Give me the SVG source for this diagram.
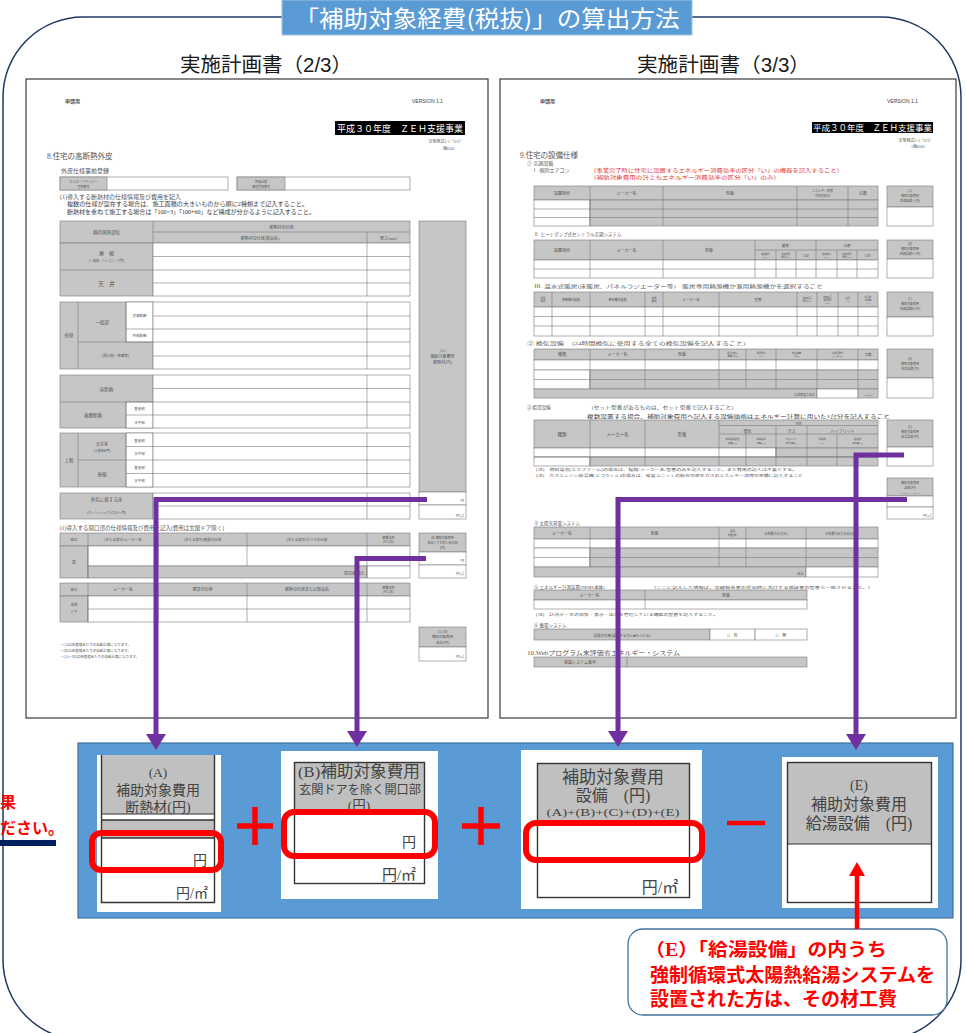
<svg xmlns="http://www.w3.org/2000/svg" width="966" height="1033" viewBox="0 0 966 1033">
<defs>
<style>
.pg{fill:#fff;stroke:#3a3a3a;stroke-width:1.2}
.g{fill:#c6c6c6;stroke:#7a7a7a;stroke-width:.6}
.w{fill:#fff;stroke:#7a7a7a;stroke-width:.6}
.l{stroke:#7a7a7a;stroke-width:.6;fill:none}
.f{font-family:"Liberation Serif","Noto Sans CJK JP",serif;fill:#555}
.s3{font-size:3px}.s35{font-size:3.5px}.s4{font-size:4px}.s45{font-size:4.5px}.s5{font-size:5px}.s55{font-size:5.5px}.s6{font-size:6px}.s7{font-size:7.5px}
.m{text-anchor:middle}.e{text-anchor:end}
.big{font-family:"Liberation Sans","Noto Sans CJK JP",sans-serif;fill:#1a1a1a}
.bx{font-family:"Liberation Serif","Noto Sans CJK JP",serif;fill:#444;text-anchor:middle}
.red{font-family:"Liberation Serif","Noto Sans CJK JP",serif;font-weight:bold;fill:#ff0000}
.rr{fill:none;stroke:#ff0000;stroke-width:6}
.hd{fill:#c0c0c0}
.plus{stroke:#ff0000;stroke-width:5.5;fill:none}
</style>
<marker id="pa" markerUnits="userSpaceOnUse" markerWidth="16" markerHeight="20" viewBox="0 0 16 20" refX="0" refY="10" orient="auto"><path d="M0,0L16,10L0,20z" fill="#7030a0"/></marker>
<marker id="ra" markerUnits="userSpaceOnUse" markerWidth="14" markerHeight="16" viewBox="0 0 14 16" refX="0" refY="8" orient="auto"><path d="M0,0L14,8L0,16z" fill="#ff0000"/></marker>
</defs>

<rect width="966" height="1033" fill="#fff"/>

<!-- outer frame -->
<g id="frame">
<rect x="3" y="17" width="958" height="1023" rx="80" ry="80" fill="none" stroke="#203864" stroke-width="1.5"/>
</g>

<!-- title -->
<g id="title">
<rect x="282" y="0" width="410" height="35" fill="#5b9bd5" stroke="#9dc3e6" stroke-width="1"/>
<text x="487" y="27" font-family="'Noto Sans CJK JP',sans-serif" font-size="23" fill="#fff" text-anchor="middle" textLength="385" lengthAdjust="spacingAndGlyphs">「補助対象経費(税抜)」の算出方法</text>
</g>

<g id="subtitles">
<text class="big" x="180" y="72" font-size="20" textLength="172" lengthAdjust="spacingAndGlyphs">実施計画書（2/3）</text>
<text class="big" x="637" y="72" font-size="20" textLength="173" lengthAdjust="spacingAndGlyphs">実施計画書（3/3）</text>
</g>

<!-- ============ LEFT PAGE (2/3) ============ -->
<g id="page-2of3">
<rect class="pg" x="26" y="79" width="462" height="639"/>
<text class="f s5" x="65" y="103" font-weight="bold" fill="#333">申請用</text>
<text x="412" y="103" font-family="'Liberation Sans',sans-serif" font-size="5" fill="#444">VERSION 1.1</text>
<rect x="335" y="121" width="130" height="14" fill="#000"/>
<text class="f m" x="400" y="131.5" font-size="9" style="fill:#fff">平成３０年度　ＺＥＨ支援事業</text>
<text class="f s4 e" x="463" y="143">定型様式1-1（2/3）</text>
<text class="f s4 e" x="455" y="149.5">版0101</text>
<text class="f s7" x="47" y="159">8.住宅の高断熱外皮</text>
<text class="f s6" x="61" y="173">外皮仕様事前登録</text>
<rect class="w" x="60" y="177" width="168" height="13"/>
<rect class="g" x="60" y="177" width="47" height="13"/>
<text class="f s3 m" x="83.5" y="182.5">ビルダー/プランナー</text>
<text class="f s3 m" x="83.5" y="187.5">登録番号</text>
<rect class="w" x="237" y="177" width="173" height="13"/>
<rect class="g" x="237" y="177" width="48" height="13"/>
<text class="f s3 m" x="261" y="182.5">外皮仕様</text>
<text class="f s3 m" x="261" y="187.5">事前登録番号</text>
<text class="f s6" x="60" y="199">(1)導入する断熱材の仕様情報及び費用を記入</text>
<text class="f s55" x="67" y="206" textLength="241" lengthAdjust="spacingAndGlyphs" style="fill:#333">複数の仕様が混在する場合は、施工面積の大きいものから順に2種類まで記入すること。</text>
<text class="f s55" x="67" y="213.5" textLength="248" lengthAdjust="spacingAndGlyphs" style="fill:#333">断熱材を重ねて施工する場合は「100×3」「100+60」など構成が分かるように記入すること。</text>

<rect class="g" x="60" y="221" width="350" height="22"/>
<path class="l" d="M153,221V243M153,232H410M367,232V243"/>
<text class="f s45 m" x="106.5" y="234">熱的境界部位</text>
<text class="f s4 m" x="281.5" y="229">断熱材の仕様</text>
<text class="f s4 m" x="260" y="240">断熱材の仕様(製品名)</text>
<text class="f s4 m" x="388.5" y="240">厚さ(mm)</text>
<rect class="g" x="60" y="243" width="93" height="53"/>
<rect class="w" x="153" y="243" width="257" height="53"/>
<path class="l" d="M60,270H410M153,256.5H410M153,283H410M367,243V296"/>
<text class="f s5 m" x="106.5" y="255">屋　根</text>
<text class="f s3 m" x="106.5" y="262">(一般部、バルコニー下等)</text>
<text class="f s55 m" x="106.5" y="286">天　井</text>
<rect class="g" x="60" y="302" width="93" height="67"/>
<rect class="w" x="126" y="302" width="27" height="40"/>
<rect class="w" x="153" y="302" width="257" height="67"/>
<path class="l" d="M78,302V369M126,302V342M78,342H410M126,329H410M153,316H410M153,356H410M367,302V369"/>
<text class="f s45 m" x="69" y="337">外壁</text>
<text class="f s45 m" x="102" y="324">一般部</text>
<text class="f s35 m" x="139.5" y="317">充填断熱</text>
<text class="f s35 m" x="139.5" y="337">外張断熱</text>
<text class="f s35 m" x="115.5" y="357">(開口部・界壁等)</text>
<rect class="g" x="60" y="375" width="93" height="53"/>
<rect class="w" x="126" y="402" width="27" height="26"/>
<rect class="w" x="153" y="375" width="257" height="53"/>
<path class="l" d="M153,388.5H410M60,402H410M126,415H410M126,402V428M367,375V428"/>
<text class="f s45 m" x="106.5" y="391">床断熱</text>
<text class="f s45 m" x="93" y="417">基礎断熱</text>
<text class="f s35 m" x="139.5" y="410">垂直部</text>
<text class="f s35 m" x="139.5" y="423.5">水平部</text>
<rect class="g" x="60" y="433" width="93" height="54"/>
<rect class="w" x="126" y="433" width="27" height="54"/>
<rect class="w" x="153" y="433" width="257" height="54"/>
<path class="l" d="M78,433V487M126,433V487M78,460H410M126,446.5H410M126,473.5H410M367,433V487"/>
<text class="f s45 m" x="69" y="462">上階</text>
<text class="f s4 m" x="102" y="446">天井等</text>
<text class="f s3 m" x="102" y="451.5">(上階床納等)</text>
<text class="f s45 m" x="102" y="476">屋根</text>
<text class="f s35 m" x="139.5" y="441.5">垂直部</text>
<text class="f s35 m" x="139.5" y="455">水平部</text>
<text class="f s35 m" x="139.5" y="468.5">垂直部</text>
<text class="f s35 m" x="139.5" y="482">水平部</text>
<rect class="g" x="60" y="493" width="93" height="26"/>
<rect class="w" x="153" y="493" width="257" height="26"/>
<path class="l" d="M153,506H410M367,493V519"/>
<text class="f s45 m" x="106.5" y="501">外気に接する床</text>
<text class="f s3 m" x="106.5" y="514">(オーバーハング,ピロティ等)</text>
<rect class="g" x="419" y="221" width="47" height="271"/>
<text class="f s4 m" x="442.5" y="352">(A)</text>
<text class="f s4 m" x="442.5" y="358">補助対象費用</text>
<text class="f s4 m" x="442.5" y="364">断熱材(円)</text>
<rect class="w" x="419" y="492" width="47" height="13"/>
<rect class="w" x="419" y="505" width="47" height="14"/>
<text class="f s35 e" x="464" y="502">円</text>
<text class="f s35 e" x="464" y="516.5">円/㎡</text>

<text class="f s55" x="60" y="530">(1)導入する開口部の仕様情報及び費用を記入(費用は玄関ドア除く)</text>
<rect class="g" x="60" y="533" width="350" height="13"/>
<rect class="g" x="60" y="546" width="28" height="32"/>
<rect class="w" x="88" y="546" width="322" height="20"/>
<rect class="g" x="88" y="566" width="279" height="12"/>
<rect class="w" x="367" y="566" width="43" height="12"/>
<path class="l" d="M88,533V578M158,533V566M247,533V566M367,533V578"/>
<text class="f s35 m" x="74" y="541">部位</text>
<text class="f s35 m" x="123" y="541">(主たる窓の)メーカー名</text>
<text class="f s35 m" x="202.5" y="541">(主たる窓の)建具の仕様</text>
<text class="f s35 m" x="307" y="541">(主たる窓の)ガラスの仕様</text>
<text class="f s3 m" x="388.5" y="538.5">熱貫流率</text>
<text class="f s3 m" x="388.5" y="543">[W/㎡K]</text>
<text class="f s4 m" x="74" y="564">窓</text>
<text class="f s4 e" x="364" y="574.5">窓の面積比</text>
<rect class="g" x="419" y="533" width="47" height="19"/>
<text class="f s3 m" x="442.5" y="538.5">(B) 補助対象費用</text>
<text class="f s3 m" x="442.5" y="543.5">玄関ドアを除く開口部</text>
<text class="f s3 m" x="442.5" y="548.5">(円)</text>
<rect class="w" x="419" y="552" width="47" height="13"/>
<rect class="w" x="419" y="565" width="47" height="13"/>
<text class="f s35 e" x="464" y="562">円</text>
<text class="f s35 e" x="464" y="575">円/㎡</text>

<rect class="g" x="60" y="583" width="350" height="13"/>
<rect class="g" x="60" y="596" width="28" height="26"/>
<rect class="w" x="88" y="596" width="322" height="26"/>
<path class="l" d="M88,583V622M158,583V622M247,583V622M367,583V622M88,609H410"/>
<text class="f s35 m" x="74" y="591">部位</text>
<text class="f s4 m" x="123" y="591">メーカー名</text>
<text class="f s4 m" x="202.5" y="591">建具の仕様</text>
<text class="f s4 m" x="307" y="591">断熱の仕様または製品名</text>
<text class="f s3 m" x="388.5" y="588.5">熱貫流率</text>
<text class="f s3 m" x="388.5" y="593">[W/㎡K]</text>
<text class="f s35 m" x="74" y="606">玄関</text>
<text class="f s35 m" x="74" y="613">ドア</text>
<rect class="g" x="419" y="627" width="47" height="20"/>
<text class="f s3 m" x="442.5" y="632.5">(A)+(B)</text>
<text class="f s35 m" x="442.5" y="638">補助対象費用</text>
<text class="f s35 m" x="442.5" y="643.5">合計(円)</text>
<rect class="w" x="419" y="647" width="47" height="14"/>
<text class="f s35 e" x="464" y="658">円/㎡</text>
<text class="f s35" x="60" y="646">・(A)は床面積あたりの自動計算になります。</text>
<text class="f s35" x="60" y="652">・(B)は床面積あたりの自動計算になります。</text>
<text class="f s35" x="60" y="658">・(A)・(B)は床面積あたりの自動計算になります。</text>
</g>

<!-- ============ RIGHT PAGE (3/3) ============ -->
<g id="page-3of3">
<rect class="pg" x="500" y="79" width="456" height="639"/>
<text class="f s5" x="540" y="103" font-weight="bold" fill="#333">申請用</text>
<text x="887" y="103" font-family="'Liberation Sans',sans-serif" font-size="5" fill="#444">VERSION 1.1</text>
<rect x="812" y="122" width="121" height="11" fill="#000"/>
<text class="f m" x="872.5" y="131" font-size="8.5" style="fill:#fff">平成３０年度　ＺＥＨ支援事業</text>
<text class="f s4 e" x="933" y="141.5">定型様式1-1（3/3）</text>
<text class="f s4 e" x="925" y="147.5">1版0101</text>
<text class="f s7" x="520" y="158">9.住宅の設備仕様</text>
<text class="f s5" x="527" y="165">① 空調設備</text>
<text class="f s5" x="532" y="172">Ⅰ. 個別エアコン</text>
<text class="f s5" x="590" y="172" textLength="253" lengthAdjust="spacingAndGlyphs" style="fill:#e03030">（事業完了時に住宅に設置するエネルギー消費効率の区分「い」の機器を記入すること）</text>
<text class="f s5" x="590" y="179" textLength="190" lengthAdjust="spacingAndGlyphs" style="fill:#e03030">（補助対象費用の計上もエネルギー消費効率の区分「い」のみ）</text>
<rect class="g" x="534" y="186" width="344" height="14"/>
<rect class="w" x="534" y="200" width="56" height="26"/>
<rect class="g" x="590" y="200" width="288" height="26"/>
<path class="l" d="M590,186V226M663,186V226M797,186V226M848,186V226M534,209H878M534,217.5H878"/>
<text class="f s4 m" x="562" y="194.5">設置場所</text>
<text class="f s4 m" x="626.5" y="194.5">メーカー名</text>
<text class="f s4 m" x="730" y="194.5">型番</text>
<text class="f s3 m" x="822.5" y="192">エネルギー消費</text>
<text class="f s3 m" x="822.5" y="196.5">効率の区分</text>
<text class="f s4 m" x="863" y="194.5">台数</text>
<rect class="g" x="887" y="186" width="46" height="21"/>
<rect class="w" x="887" y="207" width="46" height="19"/>
<text class="f s3 m" x="910" y="192">(A)</text>
<text class="f s3 m" x="910" y="197">補助対象費用</text>
<text class="f s3 m" x="910" y="202">空調設備Ⅰ(円)</text>
<text class="f s45" x="534" y="236">Ⅱ. ヒートポンプ式セントラル空調システム</text>
<rect class="g" x="534" y="240" width="344" height="20"/>
<rect class="w" x="534" y="260" width="344" height="18"/>
<path class="l" d="M590,240V278M663,240V278M755,240V278M816,240V278M755,250H878M776,250V278M796,250V278M837,250V278M857,250V278M534,269H878"/>
<text class="f s4 m" x="562" y="252">設置場所</text>
<text class="f s4 m" x="626.5" y="252">メーカー名</text>
<text class="f s4 m" x="709" y="252">型番</text>
<text class="f s35 m" x="785.5" y="247">暖房</text>
<text class="f s35 m" x="847" y="247">冷房</text>
<text class="f m" x="765.5" y="254.5" font-size="2.3">定格能力</text>
<text class="f m" x="765.5" y="257.5" font-size="2.3">(kW)</text>
<text class="f m" x="786" y="254.5" font-size="2.3">定格消費</text>
<text class="f m" x="786" y="257.5" font-size="2.3">電力(kW)</text>
<text class="f s3 m" x="806" y="256.5">COP</text>
<text class="f m" x="826.5" y="254.5" font-size="2.3">定格能力</text>
<text class="f m" x="826.5" y="257.5" font-size="2.3">(kW)</text>
<text class="f m" x="847" y="254.5" font-size="2.3">定格消費</text>
<text class="f m" x="847" y="257.5" font-size="2.3">電力(kW)</text>
<text class="f s3 m" x="867.5" y="256.5">COP</text>
<rect class="g" x="887" y="240" width="46" height="19"/>
<rect class="w" x="887" y="259" width="46" height="19"/>
<text class="f s3 m" x="910" y="245">(B)</text>
<text class="f s3 m" x="910" y="250">補助対象費用</text>
<text class="f s3 m" x="910" y="255">空調設備Ⅱ (円)</text>
<text class="f s45" x="534" y="288" textLength="289" lengthAdjust="spacingAndGlyphs">Ⅲ. 温水式暖房(床暖房、パネルラジエーター等)　暖房専用熱源機か兼用熱源機かを選択すること</text>
<rect class="g" x="534" y="292" width="344" height="15"/>
<rect class="w" x="534" y="307" width="344" height="29"/>
<path class="l" d="M552,292V336M590,292V336M645,292V336M663,292V336M719,292V336M797,292V336M817,292V336M838,292V336M858,292V336M534,316.5H878M534,326H878"/>
<text class="f m" x="543" y="298.5" font-size="2.5">設置</text>
<text class="f m" x="543" y="302" font-size="2.5">場所</text>
<text class="f s3 m" x="571" y="300.5">放熱機の種類</text>
<text class="f s3 m" x="617.5" y="300.5">熱源機の種類</text>
<text class="f m" x="654" y="298.5" font-size="2.5">専用</text>
<text class="f m" x="654" y="302" font-size="2.5">兼用</text>
<text class="f s35 m" x="691" y="301">メーカー名</text>
<text class="f s35 m" x="758" y="301">型番</text>
<text class="f m" x="807" y="298.5" font-size="2.2">定格暖房</text>
<text class="f m" x="807" y="302" font-size="2.2">能力(kW)</text>
<text class="f m" x="827.5" y="297.5" font-size="2.2">定格暖房</text>
<text class="f m" x="827.5" y="300.5" font-size="2.2">消費電力</text>
<text class="f m" x="827.5" y="303.5" font-size="2.2">(kW)</text>
<text class="f m" x="848" y="298.5" font-size="2.3">暖房</text>
<text class="f m" x="848" y="302" font-size="2.3">COP</text>
<text class="f m" x="868" y="297.5" font-size="2.2">暖房部</text>
<text class="f m" x="868" y="300.5" font-size="2.2">熱効率</text>
<text class="f m" x="868" y="303.5" font-size="2.2">(%)</text>
<rect class="g" x="887" y="292" width="46" height="25"/>
<rect class="w" x="887" y="317" width="46" height="19"/>
<text class="f s3 m" x="910" y="300">(C)</text>
<text class="f s3 m" x="910" y="305">補助対象費用</text>
<text class="f s3 m" x="910" y="310">空調設備Ⅲ (円)</text>
<text class="f s45" x="527" y="345" textLength="223" lengthAdjust="spacingAndGlyphs">② 換気設備　（24時間換気に使用する全ての換気設備を記入すること）</text>
<rect class="g" x="534" y="349" width="344" height="11"/>
<rect class="w" x="534" y="360" width="344" height="10"/>
<rect class="w" x="534" y="370" width="56" height="19"/>
<rect class="g" x="590" y="370" width="288" height="19"/>
<rect class="g" x="534" y="389" width="283" height="9"/>
<rect class="w" x="817" y="389" width="41" height="9"/>
<rect class="g" x="858" y="389" width="20" height="9"/>
<path class="l" d="M590,349V389M645,349V389M719,349V389M746,349V389M776,349V389M817,349V389M858,349V389M534,379.5H878"/>
<text class="f s4 m" x="562" y="356">種類</text>
<text class="f s4 m" x="617.5" y="356">メーカー名</text>
<text class="f s4 m" x="682" y="356">型番</text>
<text class="f m" x="732.5" y="353.5" font-size="2.3">設計(換気)</text>
<text class="f m" x="732.5" y="357" font-size="2.3">風量(㎥/h)</text>
<text class="f m" x="761" y="353.5" font-size="2.3">消費電力</text>
<text class="f m" x="761" y="357" font-size="2.3">(W)</text>
<text class="f m" x="796.5" y="353.5" font-size="2.3">換気風量</text>
<text class="f m" x="796.5" y="357" font-size="2.3">(㎥/h)</text>
<text class="f m" x="837.5" y="353.5" font-size="2.3">比消費電力</text>
<text class="f m" x="837.5" y="357" font-size="2.3">[W/(㎥/h)]</text>
<text class="f s35 m" x="868" y="356">台数</text>
<text class="f s3 e" x="815" y="395.5">比消費電力合計</text>
<text class="f m" x="868" y="395.5" font-size="2.3">W/(㎥/h)</text>
<rect class="g" x="887" y="349" width="46" height="29"/>
<rect class="w" x="887" y="378" width="46" height="20"/>
<text class="f s3 m" x="910" y="360">(D)</text>
<text class="f s3 m" x="910" y="365">補助対象費用</text>
<text class="f s3 m" x="910" y="370">換気設備 (円)</text>
<text class="f s45" x="527" y="409">③ 給湯設備</text>
<text class="f s45" x="588" y="409" textLength="149" lengthAdjust="spacingAndGlyphs">（セット型番があるものは、セット型番で記入すること）</text>
<text class="f s45" x="587" y="417.5" textLength="303" lengthAdjust="spacingAndGlyphs" style="fill:#333">複数設置する場合、補助対象費用へ記入する設備価格はエネルギー計算に用いた1台分を記入すること</text>
<rect class="g" x="534" y="420" width="344" height="28"/>
<rect class="w" x="534" y="448" width="242" height="9"/>
<rect class="g" x="776" y="448" width="102" height="9"/>
<rect class="w" x="534" y="457" width="56" height="9"/>
<rect class="g" x="590" y="457" width="288" height="9"/>
<path class="l" d="M590,420V466M645,420V466M719,420V466M719,425.5H878M719,434H878M776,425.5V466M807,425.5V466M746,434V466M837,434V466M534,457H878"/>
<text class="f s45 m" x="562" y="436">種類</text>
<text class="f s45 m" x="617.5" y="436">メーカー名</text>
<text class="f s45 m" x="682" y="436">型番</text>
<text class="f s3 m" x="798.5" y="424.5">効率</text>
<text class="f s4 m" x="747.5" y="432.5">電気</text>
<text class="f s4 m" x="791.5" y="432.5">ガス</text>
<text class="f s4 m" x="842.5" y="432.5">ハイブリッド</text>
<text class="f m" x="732.5" y="439.5" font-size="2.3">年間給湯保温</text>
<text class="f m" x="732.5" y="443.5" font-size="2.3">効率(JIS)</text>
<text class="f m" x="761" y="439.5" font-size="2.3">年間給湯</text>
<text class="f m" x="761" y="443.5" font-size="2.3">効率(JIS)</text>
<text class="f m" x="791.5" y="439.5" font-size="2.3">エネルギー</text>
<text class="f m" x="791.5" y="443.5" font-size="2.3">消費効率(%)</text>
<text class="f m" x="822" y="439.5" font-size="2.3">中間期</text>
<text class="f m" x="822" y="443.5" font-size="2.3">COP</text>
<text class="f m" x="857.5" y="439.5" font-size="2.3">給湯部</text>
<text class="f m" x="857.5" y="443.5" font-size="2.3">熱効率(%)</text>
<rect class="g" x="887" y="420" width="46" height="27"/>
<rect class="w" x="887" y="447" width="46" height="19"/>
<text class="f s3 m" x="910" y="428">(E)</text>
<text class="f s3 m" x="910" y="433">補助対象費用</text>
<text class="f s3 m" x="910" y="438">給湯設備 (円)</text>
<text class="f s3" x="536" y="471" textLength="261" lengthAdjust="spacingAndGlyphs">(注)　燃料電池(エネファーム)の場合は、種類/メーカー名/型番のみを記入すること。また費用の記入は不要とする。</text>
<text class="f s3" x="536" y="477" textLength="267" lengthAdjust="spacingAndGlyphs">(注)　ガスエンジン給湯機(エコウィル)の場合は、発電ユニットの総合効率をガスのエネルギー消費効率欄に記入すること</text>
<rect class="g" x="887" y="478" width="46" height="18"/>
<rect class="w" x="887" y="496" width="46" height="11"/>
<rect class="w" x="887" y="507" width="46" height="12"/>
<text class="f s3 m" x="910" y="483.5">補助対象費用</text>
<text class="f s3 m" x="910" y="488.5">設備 (円)</text>
<text class="f m" x="910" y="493.5" font-size="2.3">(A)+(B)+(C)+(D)+(E)</text>
<text class="f s35 e" x="931" y="516.5">円/㎡</text>
<text class="f s45" x="534" y="525">④ 太陽光発電システム</text>
<rect class="g" x="534" y="527" width="344" height="12"/>
<rect class="w" x="534" y="539" width="344" height="9"/>
<rect class="w" x="534" y="548" width="56" height="19"/>
<rect class="g" x="590" y="548" width="288" height="19"/>
<rect class="g" x="534" y="567" width="272" height="10"/>
<rect class="w" x="806" y="567" width="72" height="10"/>
<path class="l" d="M590,527V567M719,527V567M746,527V567M806,527V567M534,557.5H878"/>
<text class="f s4 m" x="562" y="534.5">メーカー名</text>
<text class="f s4 m" x="654.5" y="534.5">型番</text>
<text class="f m" x="732.5" y="532" font-size="2.5">設置</text>
<text class="f m" x="732.5" y="536" font-size="2.5">枚数(枚)</text>
<text class="f s3 m" x="776" y="534.5">公称最大出力(W)</text>
<text class="f s3 m" x="842" y="534.5">公称最大出力の合計(kW)</text>
<text class="f s35 e" x="804" y="574.5">合計</text>
<text class="f s45" x="534" y="589">⑤ エネルギー計測装置(HEMS本体)</text>
<text class="f s35" x="651" y="589" textLength="222" lengthAdjust="spacingAndGlyphs">（ここに記入した情報は、実績報告書の提出時に添付する保証書の型番と一致させること。）</text>
<rect class="g" x="534" y="590" width="273" height="10"/>
<rect class="w" x="534" y="600" width="273" height="9"/>
<path class="l" d="M645,590V609"/>
<text class="f s4 m" x="589.5" y="597">メーカー名</text>
<text class="f s4 m" x="726" y="597">型番</text>
<text class="f s3" x="536" y="615.5" textLength="182" lengthAdjust="spacingAndGlyphs">(注)　計測データの収集・表示・出力を管理している機器の型番を記入すること。</text>
<text class="f s45" x="534" y="627">⑥ 蓄電システム</text>
<rect class="g" x="534" y="629" width="176" height="11"/>
<rect class="w" x="710" y="629" width="45" height="11"/>
<rect class="w" x="755" y="629" width="52" height="11"/>
<text class="f s35 m" x="622" y="636.5">設置の有無(設置する方に■をつける)</text>
<text class="f s4 m" x="732.5" y="636.5">□　有</text>
<text class="f s4 m" x="781" y="636.5">□　無</text>
<text class="f s6" x="527" y="655" textLength="153" lengthAdjust="spacingAndGlyphs">10.Webプログラム未評価省エネルギー・システム</text>
<rect class="g" x="534" y="657" width="273" height="10"/>
<path class="l" d="M627,657V667"/>
<text class="f s4 m" x="580" y="664">登録システム番号</text>
</g>

<!-- ============ BOTTOM PANEL ============ -->
<g id="panel">
<rect x="78" y="743" width="875" height="175" fill="#5b9bd5" stroke="#41719c" stroke-width="1.2"/>
</g>

<g id="node-A">
<rect x="97" y="755" width="124" height="157" fill="#fff"/>
<rect class="hd" x="102" y="755" width="113" height="59"/>
<rect class="hd" x="102" y="820" width="113" height="18"/>
<path d="M101.5,755V902.5H214.5V755M101.5,820H214.5M101.5,838H214.5M101.5,868H214.5" fill="none" stroke="#333" stroke-width="1.4"/>
<path d="M101.5,814H214.5" stroke="#333" stroke-width="1"/>
<text class="bx" x="158" y="777" font-size="13.5">(A)</text>
<text class="bx" x="158" y="795" font-size="14">補助対象費用</text>
<text class="bx" x="158" y="812" font-size="14">断熱材(円)</text>
<text class="bx" x="200" y="865" font-size="14">円</text>
<text class="bx" x="192" y="898" font-size="14">円/㎡</text>
<rect class="rr" x="92" y="833" width="129" height="37" rx="9"/>
</g>

<g id="op-plus-1"><path class="plus" d="M237,826H273M255,807V845"/></g>

<g id="node-B">
<rect x="281" y="751" width="157" height="148" fill="#fff"/>
<rect class="hd" x="295" y="763" width="129" height="50"/>
<rect x="294.5" y="762.5" width="130" height="121" fill="none" stroke="#333" stroke-width="1.4"/>
<path d="M294.5,856H424.5" stroke="#333" stroke-width="1.2"/>
<text class="bx" x="359" y="777" font-size="15.5" textLength="122" lengthAdjust="spacingAndGlyphs">(B)補助対象費用</text>
<text class="bx" x="360" y="794" font-size="12" textLength="122" lengthAdjust="spacingAndGlyphs">玄関ドアを除く開口部</text>
<text class="bx" x="359" y="810" font-size="13.5">(円)</text>
<text class="bx" x="409" y="847" font-size="14">円</text>
<text class="bx" x="399" y="880" font-size="15">円/㎡</text>
<rect class="rr" x="284" y="812" width="151" height="44" rx="10"/>
</g>

<g id="op-plus-2"><path class="plus" d="M462,826H500M481,807V845"/></g>

<g id="node-C">
<rect x="521" y="750" width="181" height="159" fill="#fff"/>
<rect class="hd" x="538" y="764" width="151" height="58"/>
<rect x="537.5" y="763.5" width="152" height="134" fill="none" stroke="#333" stroke-width="1.4"/>
<path d="M537.5,822H689.5M537.5,860H689.5" stroke="#333" stroke-width="1"/>
<text class="bx" x="613" y="783" font-size="17">補助対象費用</text>
<text class="bx" x="613" y="801" font-size="16">設備　(円)</text>
<text class="bx" x="613" y="816" font-size="11" textLength="133" lengthAdjust="spacingAndGlyphs">(A)+(B)+(C)+(D)+(E)</text>
<text class="bx" x="660" y="893" font-size="16">円/㎡</text>
<rect class="rr" x="526" y="823" width="176" height="37" rx="10"/>
</g>

<g id="op-minus"><path d="M727,823H765" stroke="#ff0000" stroke-width="4.5"/></g>

<g id="node-E">
<rect x="782" y="757" width="156" height="151" fill="#fff"/>
<rect class="hd" x="788" y="763" width="143" height="81"/>
<rect x="787.5" y="762.5" width="144" height="140" fill="none" stroke="#333" stroke-width="1.4"/>
<path d="M787.5,844H931.5" stroke="#333" stroke-width="1.2"/>
<text class="bx" x="859" y="790" font-size="14">(E)</text>
<text class="bx" x="859" y="810" font-size="16">補助対象費用</text>
<text class="bx" x="859" y="829" font-size="16">給湯設備　(円)</text>
</g>

<!-- left cut-off note -->
<g id="left-note">
<text class="red" x="0" y="808" font-size="16">果</text>
<text class="red" x="0" y="834" font-size="16">ださい。</text>
<rect x="0" y="840" width="56" height="6" fill="#002060"/>
</g>

<!-- callout -->
<g id="callout">
<rect x="628" y="929" width="319" height="86" rx="15" fill="#fff" stroke="#41719c" stroke-width="1.3"/>
<text class="red" x="645" y="956" font-size="18" textLength="242" lengthAdjust="spacingAndGlyphs">（E）「給湯設備」の内うち</text>
<text class="red" x="650" y="982" font-size="19" textLength="285" lengthAdjust="spacingAndGlyphs">強制循環式太陽熱給湯システムを</text>
<text class="red" x="650" y="1006" font-size="19" textLength="247" lengthAdjust="spacingAndGlyphs">設置された方は、その材工費</text>
</g>

<!-- connectors -->
<g id="connectors" fill="none">
<path d="M427,499.5H156V734" stroke="#7030a0" stroke-width="5" marker-end="url(#pa)"/>
<path d="M426,558.5H357V731" stroke="#7030a0" stroke-width="5" marker-end="url(#pa)"/>
<path d="M907,499.5H618V731" stroke="#7030a0" stroke-width="5" marker-end="url(#pa)"/>
<path d="M904,455H856V734" stroke="#7030a0" stroke-width="5" marker-end="url(#pa)"/>
<path d="M857,929V876" stroke="#ff0000" stroke-width="4.5" marker-end="url(#ra)"/>
</g>
</svg>
